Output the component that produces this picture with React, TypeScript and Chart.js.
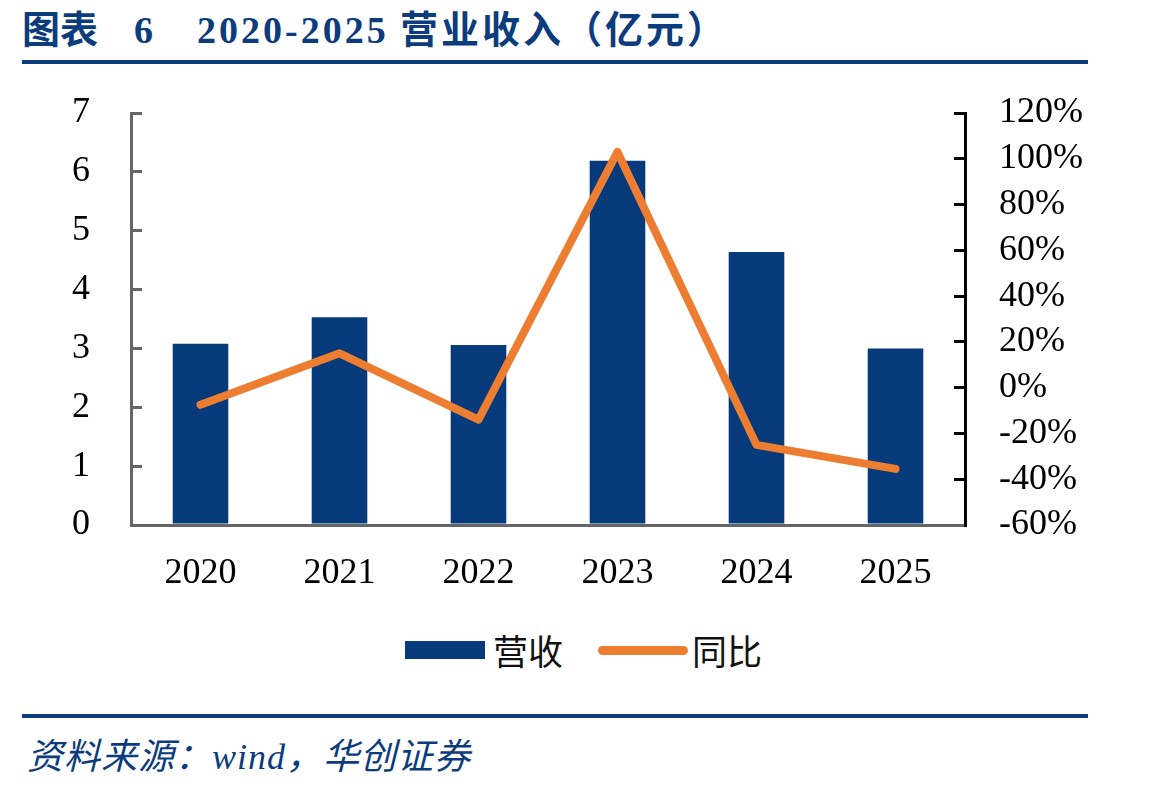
import React, { useEffect, useRef } from 'react';
import { Chart, registerables } from 'chart.js';

Chart.register(...registerables);

// ---- data ----
const categories = ['2020', '2021', '2022', '2023', '2024', '2025'];
const revenue = [3.08, 3.53, 3.06, 6.19, 4.64, 3.0]; // 营收（亿元）
const yoy = [-7.5, 15, -14, 103, -25, -35.5]; // 同比 (%)
const leftMin = 0;
const leftMax = 7;
const leftStep = 1;
const rightMin = -60;
const rightMax = 120;
const rightStep = 20;

const BLUE = '#063a7a';
const ORANGE = '#ed7d31';
const TITLE_BLUE = '#0c3c7c';
const SERIF = '"Liberation Serif", "Times New Roman", serif';
const CJK_SANS = '"Noto Sans CJK SC", "Noto Sans", sans-serif';
const MIXED = `"Liberation Serif", ${CJK_SANS}`;

export default function App() {
  const canvasRef = useRef<HTMLCanvasElement | null>(null);

  useEffect(() => {
    const canvas = canvasRef.current;
    if (!canvas) return;
    const tickFont = { family: SERIF, size: 36 };
    const chart = new Chart(canvas, {
      type: 'bar',
      data: {
        labels: categories,
        datasets: [
          {
            type: 'line',
            label: '同比',
            data: yoy,
            yAxisID: 'y1',
            borderColor: ORANGE,
            backgroundColor: ORANGE,
            borderWidth: 8,
            pointRadius: 0,
            tension: 0,
            borderCapStyle: 'round',
            borderJoinStyle: 'round',
            order: 0,
          } as any,
          {
            type: 'bar',
            label: '营收',
            data: revenue,
            yAxisID: 'y',
            backgroundColor: BLUE,
            borderWidth: 0,
            categoryPercentage: 1,
            barPercentage: 0.4,
            order: 1,
          } as any,
        ],
      },
      options: {
        responsive: false,
        animation: false,
        devicePixelRatio: 1,
        layout: { padding: { left: 0, right: 0, top: 33, bottom: 0 } },
        plugins: {
          legend: { display: false },
          tooltip: { enabled: false },
          title: { display: false },
        },
        scales: {
          x: {
            offset: true,
            grid: { display: false, drawTicks: false },
            border: { display: true, color: '#666666', width: 3 },
            ticks: {
              font: tickFont,
              color: '#000000',
              padding: 27,
              autoSkip: false,
              maxRotation: 0,
            },
            afterFit: (s: any) => {
              s.height = 95;
            },
          },
          y: {
            position: 'left',
            min: leftMin,
            max: leftMax,
            ticks: {
              stepSize: leftStep,
              font: tickFont,
              color: '#000000',
              padding: 52,
              autoSkip: false,
            },
            grid: {
              drawOnChartArea: false,
              drawTicks: true,
              tickLength: -11,
              color: '#666666',
              lineWidth: 3,
            },
            border: { display: true, color: '#666666', width: 3 },
            afterFit: (s: any) => {
              s.width = 131;
              s.paddingTop = 0;
              s.paddingBottom = 0;
            },
          },
          y1: {
            position: 'right',
            min: rightMin,
            max: rightMax,
            ticks: {
              stepSize: rightStep,
              font: tickFont,
              color: '#000000',
              padding: 45,
              autoSkip: false,
              callback: (v: any) => `${v}%`,
            },
            grid: {
              drawOnChartArea: false,
              drawTicks: true,
              tickLength: -11,
              color: '#000000',
              lineWidth: 3,
            },
            border: { display: true, color: '#000000', width: 3 },
            afterFit: (s: any) => {
              s.width = 184;
              s.paddingTop = 0;
              s.paddingBottom = 0;
            },
          },
        },
      } as any,
    });
    return () => chart.destroy();
  }, []);

  const titleStyle: React.CSSProperties = {
    position: 'absolute',
    top: 6,
    fontFamily: MIXED,
    fontWeight: 700,
    fontSize: 38,
    lineHeight: '48px',
    color: TITLE_BLUE,
    whiteSpace: 'pre',
  };

  const legendText: React.CSSProperties = {
    position: 'absolute',
    top: 628,
    fontFamily: CJK_SANS,
    fontSize: 35,
    lineHeight: '44px',
    color: '#111111',
  };

  return (
    <div
      style={{
        position: 'absolute',
        left: 0,
        top: 0,
        width: 1149,
        height: 792,
        background: '#ffffff',
        overflow: 'hidden',
      }}
    >
      <span style={{ ...titleStyle, left: 22 }}>图表</span>
      <span style={{ ...titleStyle, left: 134 }}>6</span>
      <span style={{ ...titleStyle, left: 197, letterSpacing: 3 }}>2020-2025</span>
      <span style={{ ...titleStyle, left: 400, letterSpacing: 3 }}>营业收入（亿元）</span>
      <div
        style={{
          position: 'absolute',
          left: 22,
          top: 60,
          width: 1066,
          height: 4,
          background: TITLE_BLUE,
        }}
      />
      <canvas
        ref={canvasRef}
        width={1149}
        height={540}
        style={{ position: 'absolute', left: 0, top: 80, width: 1149, height: 540 }}
      />
      {/* legend */}
      <div
        style={{
          position: 'absolute',
          left: 405,
          top: 641,
          width: 80,
          height: 18,
          background: BLUE,
        }}
      />
      <span style={{ ...legendText, left: 493 }}>营收</span>
      <div
        style={{
          position: 'absolute',
          left: 598,
          top: 646,
          width: 90,
          height: 9,
          borderRadius: 5,
          background: ORANGE,
        }}
      />
      <span style={{ ...legendText, left: 692 }}>同比</span>
      <div
        style={{
          position: 'absolute',
          left: 22,
          top: 714,
          width: 1066,
          height: 4,
          background: TITLE_BLUE,
        }}
      />
      <span
        style={{
          position: 'absolute',
          left: 27,
          top: 734,
          fontFamily: MIXED,
          fontStyle: 'italic',
          fontSize: 36,
          letterSpacing: 1,
          lineHeight: '46px',
          color: TITLE_BLUE,
          whiteSpace: 'pre',
        }}
      >
        资料来源：wind，华创证券
      </span>
    </div>
  );
}
